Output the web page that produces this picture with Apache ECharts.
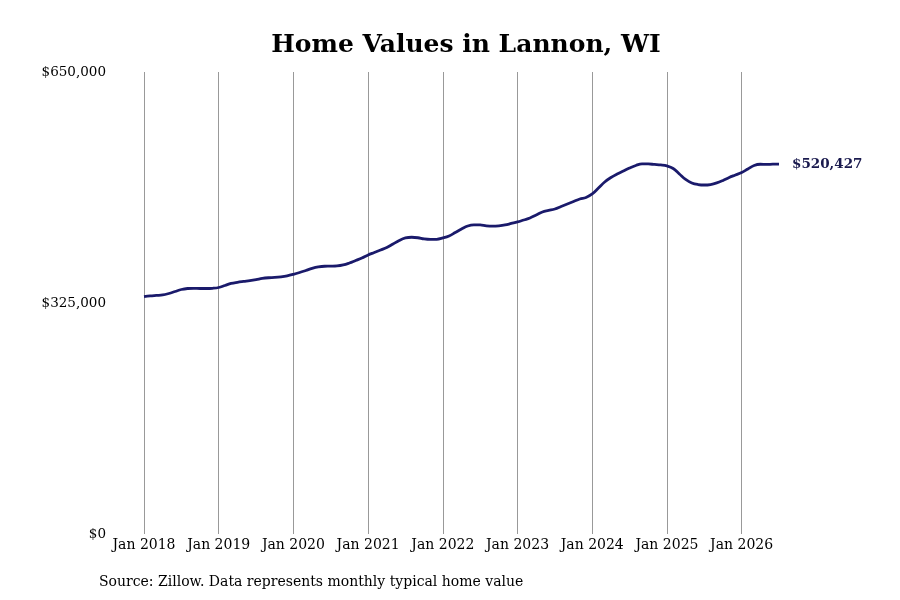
<!DOCTYPE html>
<html>
<head>
<meta charset="utf-8">
<title>Home Values in Lannon, WI</title>
<script src="https://cdn.jsdelivr.net/npm/echarts@6/dist/echarts.min.js"></script>
<style>
    html, body { margin: 0; padding: 0; background: #ffffff; }
    #main { width: 900px; height: 600px; }
</style>
</head>
<body>
<div id="main"></div>
<script>
// 数据 -------------
var startYear = 2018;
var monthNames = ['Jan', 'Feb', 'Mar', 'Apr', 'May', 'Jun', 'Jul', 'Aug', 'Sep', 'Oct', 'Nov', 'Dec'];

// monthly typical home value, Jan 2018 - Jul 2026
var homeValues = [
    333900, 334900, 335600, 336300, 338400, 341200, 344000, 345400, 345700, 345400, 345400, 345700,
    346800, 349600, 352500, 354100, 355300, 356400, 357800, 359500, 360500, 361000, 361900, 363300,
    365400, 367900, 370700, 373600, 375700, 376700, 376800, 377100, 378500, 381300, 384800, 388300,
    392600, 396100, 399600, 403100, 408000, 413000, 416500, 417500, 416800, 415100, 414400, 414600,
    416500, 419300, 424200, 429100, 433400, 435000, 434800, 433600, 433100, 433600, 434800, 436900,
    439000, 441800, 444600, 448800, 453100, 455200, 457300, 460800, 464300, 467800, 471300, 473500,
    478400, 486800, 495300, 501600, 506500, 510700, 515000, 518500, 520600, 520600, 519900, 519200,
    517800, 514300, 506500, 498800, 493900, 491700, 491000, 491700, 493900, 497400, 501600, 505100,
    508600, 513600, 518500, 520200, 519900, 520300, 520427
];

var yTicks = [0, 325000, 650000];

// 类目: 每月一个
var months = [];
for (var i = 0; i < homeValues.length; i++) {
    months.push(monthNames[i % 12] + ' ' + (startYear + Math.floor(i / 12)));
}

function money(v) {
    return '$' + Math.round(v).toString().replace(/\B(?=(\d{3})+(?!\d))/g, ',');
}

var serif = '"DejaVu Serif", serif';

var myChart = echarts.init(document.getElementById('main'));

var option = {
    animation: false,
    textStyle: { fontFamily: serif },
    title: {
        text: 'Home Values in Lannon, WI',
        left: 461,
        top: 28,
        textAlign: 'center',
        textStyle: { fontFamily: serif, fontWeight: 'bold', fontSize: 25, color: '#000' }
    },
    graphic: [{
        type: 'text',
        left: 99,
        top: 575,
        style: {
            text: 'Source: Zillow. Data represents monthly typical home value',
            fontFamily: serif,
            fontSize: 14,
            fill: '#000'
        }
    }],
    grid: { left: 144, right: 121, top: 72, bottom: 66 },
    xAxis: {
        type: 'category',
        data: months,
        boundaryGap: false,
        axisLine: { show: false },
        axisTick: { show: false },
        axisLabel: {
            interval: 11,
            margin: 4,
            fontFamily: serif,
            fontSize: 14,
            color: '#000'
        },
        splitLine: {
            show: true,
            interval: 11,
            lineStyle: { color: '#999999', width: 1 }
        }
    },
    yAxis: {
        type: 'value',
        min: yTicks[0],
        max: yTicks[yTicks.length - 1],
        interval: yTicks[1] - yTicks[0],
        axisLine: { show: false },
        axisTick: { show: false },
        splitLine: { show: false },
        axisLabel: {
            margin: 38,
            fontFamily: serif,
            fontSize: 13.5,
            color: '#000',
            formatter: money
        }
    },
    series: [{
        type: 'line',
        data: homeValues,
        smooth: 0.4,
        showSymbol: false,
        lineStyle: { color: '#1a1a6b', width: 2.8 },
        endLabel: {
            show: true,
            distance: 13,
            formatter: function (p) { return money(p.value); },
            fontFamily: serif,
            fontWeight: 'bold',
            fontSize: 13.5,
            color: '#1a1a4e'
        }
    }]
};

myChart.setOption(option);

window.onresize = function () {
    myChart.resize();
};
</script>
</body>
</html>
